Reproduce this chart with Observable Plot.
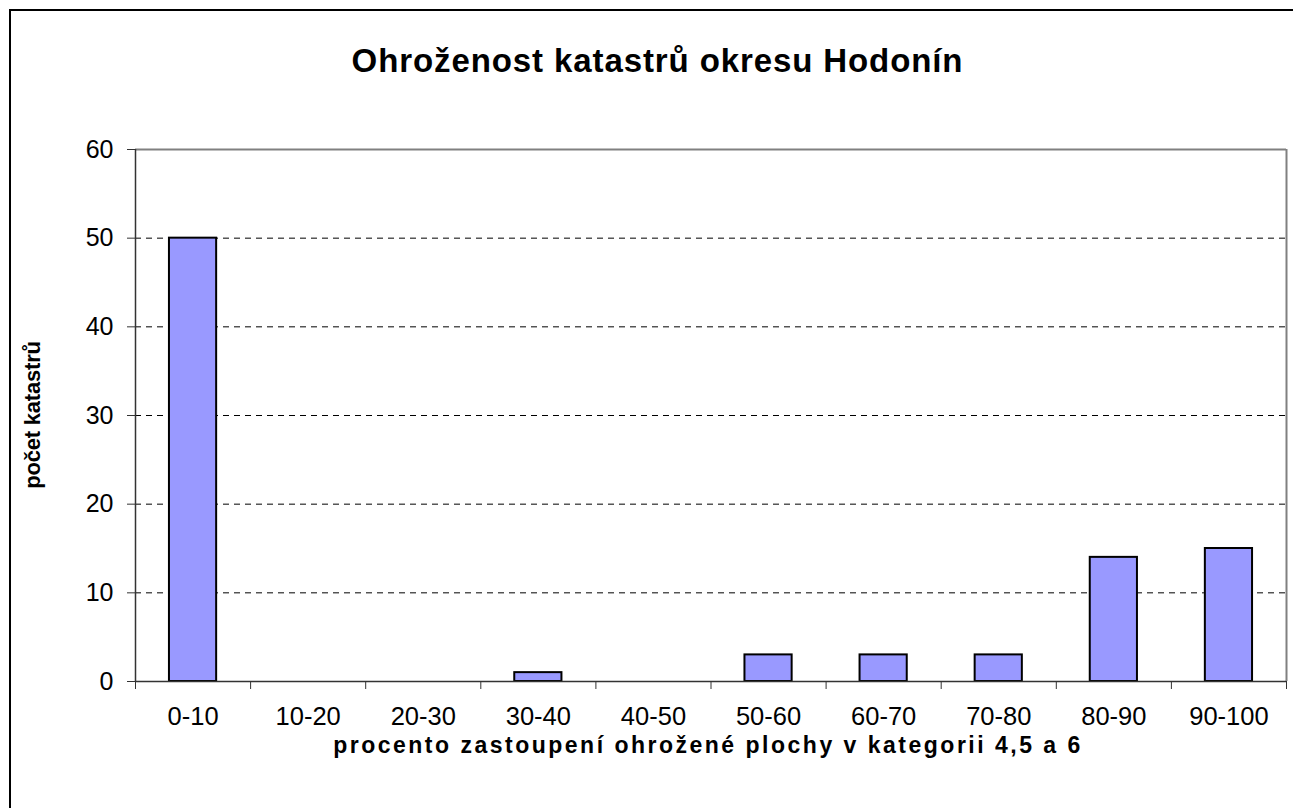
<!DOCTYPE html>
<html>
<head>
<meta charset="utf-8">
<script src="https://cdn.jsdelivr.net/npm/d3@7"></script>
<script src="https://cdn.jsdelivr.net/npm/@observablehq/plot@0.6"></script>
<style>
  html, body { margin: 0; padding: 0; background: #fff; }
  #wrap { position: relative; width: 1293px; height: 808px; overflow: hidden; font-family: "Liberation Sans", Arial, sans-serif; }
  #frame { position: absolute; left: 9px; top: 9px; width: 1400px; height: 900px; border: 2px solid #000; box-sizing: border-box; }
  #title { position: absolute; left: 0; width: 1315px; top: 42px; text-align: center; font-weight: bold; font-size: 33px; letter-spacing: 0.9px; color: #000; }
  #xlabel { position: absolute; left: 0; width: 1416px; top: 732px; text-align: center; font-weight: bold; font-size: 23px; letter-spacing: 2.5px; color: #000; }
  #ylabel { position: absolute; left: 33px; top: 415px; transform: translate(-50%, -50%) rotate(-90deg); white-space: nowrap; font-weight: bold; font-size: 22px; letter-spacing: -0.2px; color: #000; }
  #chart { position: absolute; left: 0; top: 0; }
</style>
</head>
<body>
<div id="wrap">
  <div id="frame"></div>
  <div id="chart"></div>
  <div id="title">Ohroženost katastrů okresu Hodonín</div>
  <div id="ylabel">počet katastrů</div>
  <div id="xlabel">procento zastoupení ohrožené plochy v kategorii 4,5 a 6</div>
</div>
<script>
const categories = ["0-10", "10-20", "20-30", "30-40", "40-50", "50-60", "60-70", "70-80", "80-90", "90-100"];
const counts = [50, 0, 0, 1, 0, 3, 3, 3, 14, 15];
const yTicks = [0, 10, 20, 30, 40, 50, 60];
const gridTicks = [10, 20, 30, 40, 50];

const data = categories.map((c, i) => ({cat: c, i, n: counts[i]}));
const bars = data.filter(d => d.n > 0);
const boundaries = d3.range(0, categories.length + 1);
const centers = categories.map((c, i) => i + 0.5);

const chart = Plot.plot({
  width: 1293,
  height: 808,
  marginLeft: 135,
  marginRight: 7,
  marginTop: 149,
  marginBottom: 127,
  style: {background: "transparent", fontFamily: "Liberation Sans, Arial, sans-serif", overflow: "visible"},
  x: {type: "linear", domain: [0, categories.length]},
  y: {domain: [0, 60]},
  marks: [
    Plot.gridY(gridTicks, {stroke: "#000", strokeOpacity: 1, strokeWidth: 1, strokeDasharray: "6,5"}),
    Plot.ruleY([60], {stroke: "#808080", strokeWidth: 2}),
    Plot.ruleX([categories.length], {stroke: "#808080", strokeWidth: 2}),
    Plot.rectY(bars, {x1: d => d.i + 0.295, x2: d => d.i + 0.705, y: "n", fill: "#9999FF", stroke: "#000", strokeWidth: 2}),
    Plot.ruleX([0], {stroke: "#333", strokeWidth: 1.5}),
    Plot.ruleY([0], {stroke: "#333", strokeWidth: 1.5}),
    Plot.axisY({ticks: yTicks, tickSize: 8, tickPadding: 14, fontSize: 25, label: null, stroke: "#333", color: "#000"}),
    Plot.axisX({ticks: boundaries, tickSize: 8, tickFormat: () => "", label: null, stroke: "#333"}),
    Plot.axisX({ticks: centers, tickSize: 0, tickPadding: 25, fontSize: 25.5, label: null, color: "#000",
      tickFormat: d => categories[Math.floor(d)]})
  ]
});
document.getElementById("chart").appendChild(chart);
</script>
</body>
</html>
